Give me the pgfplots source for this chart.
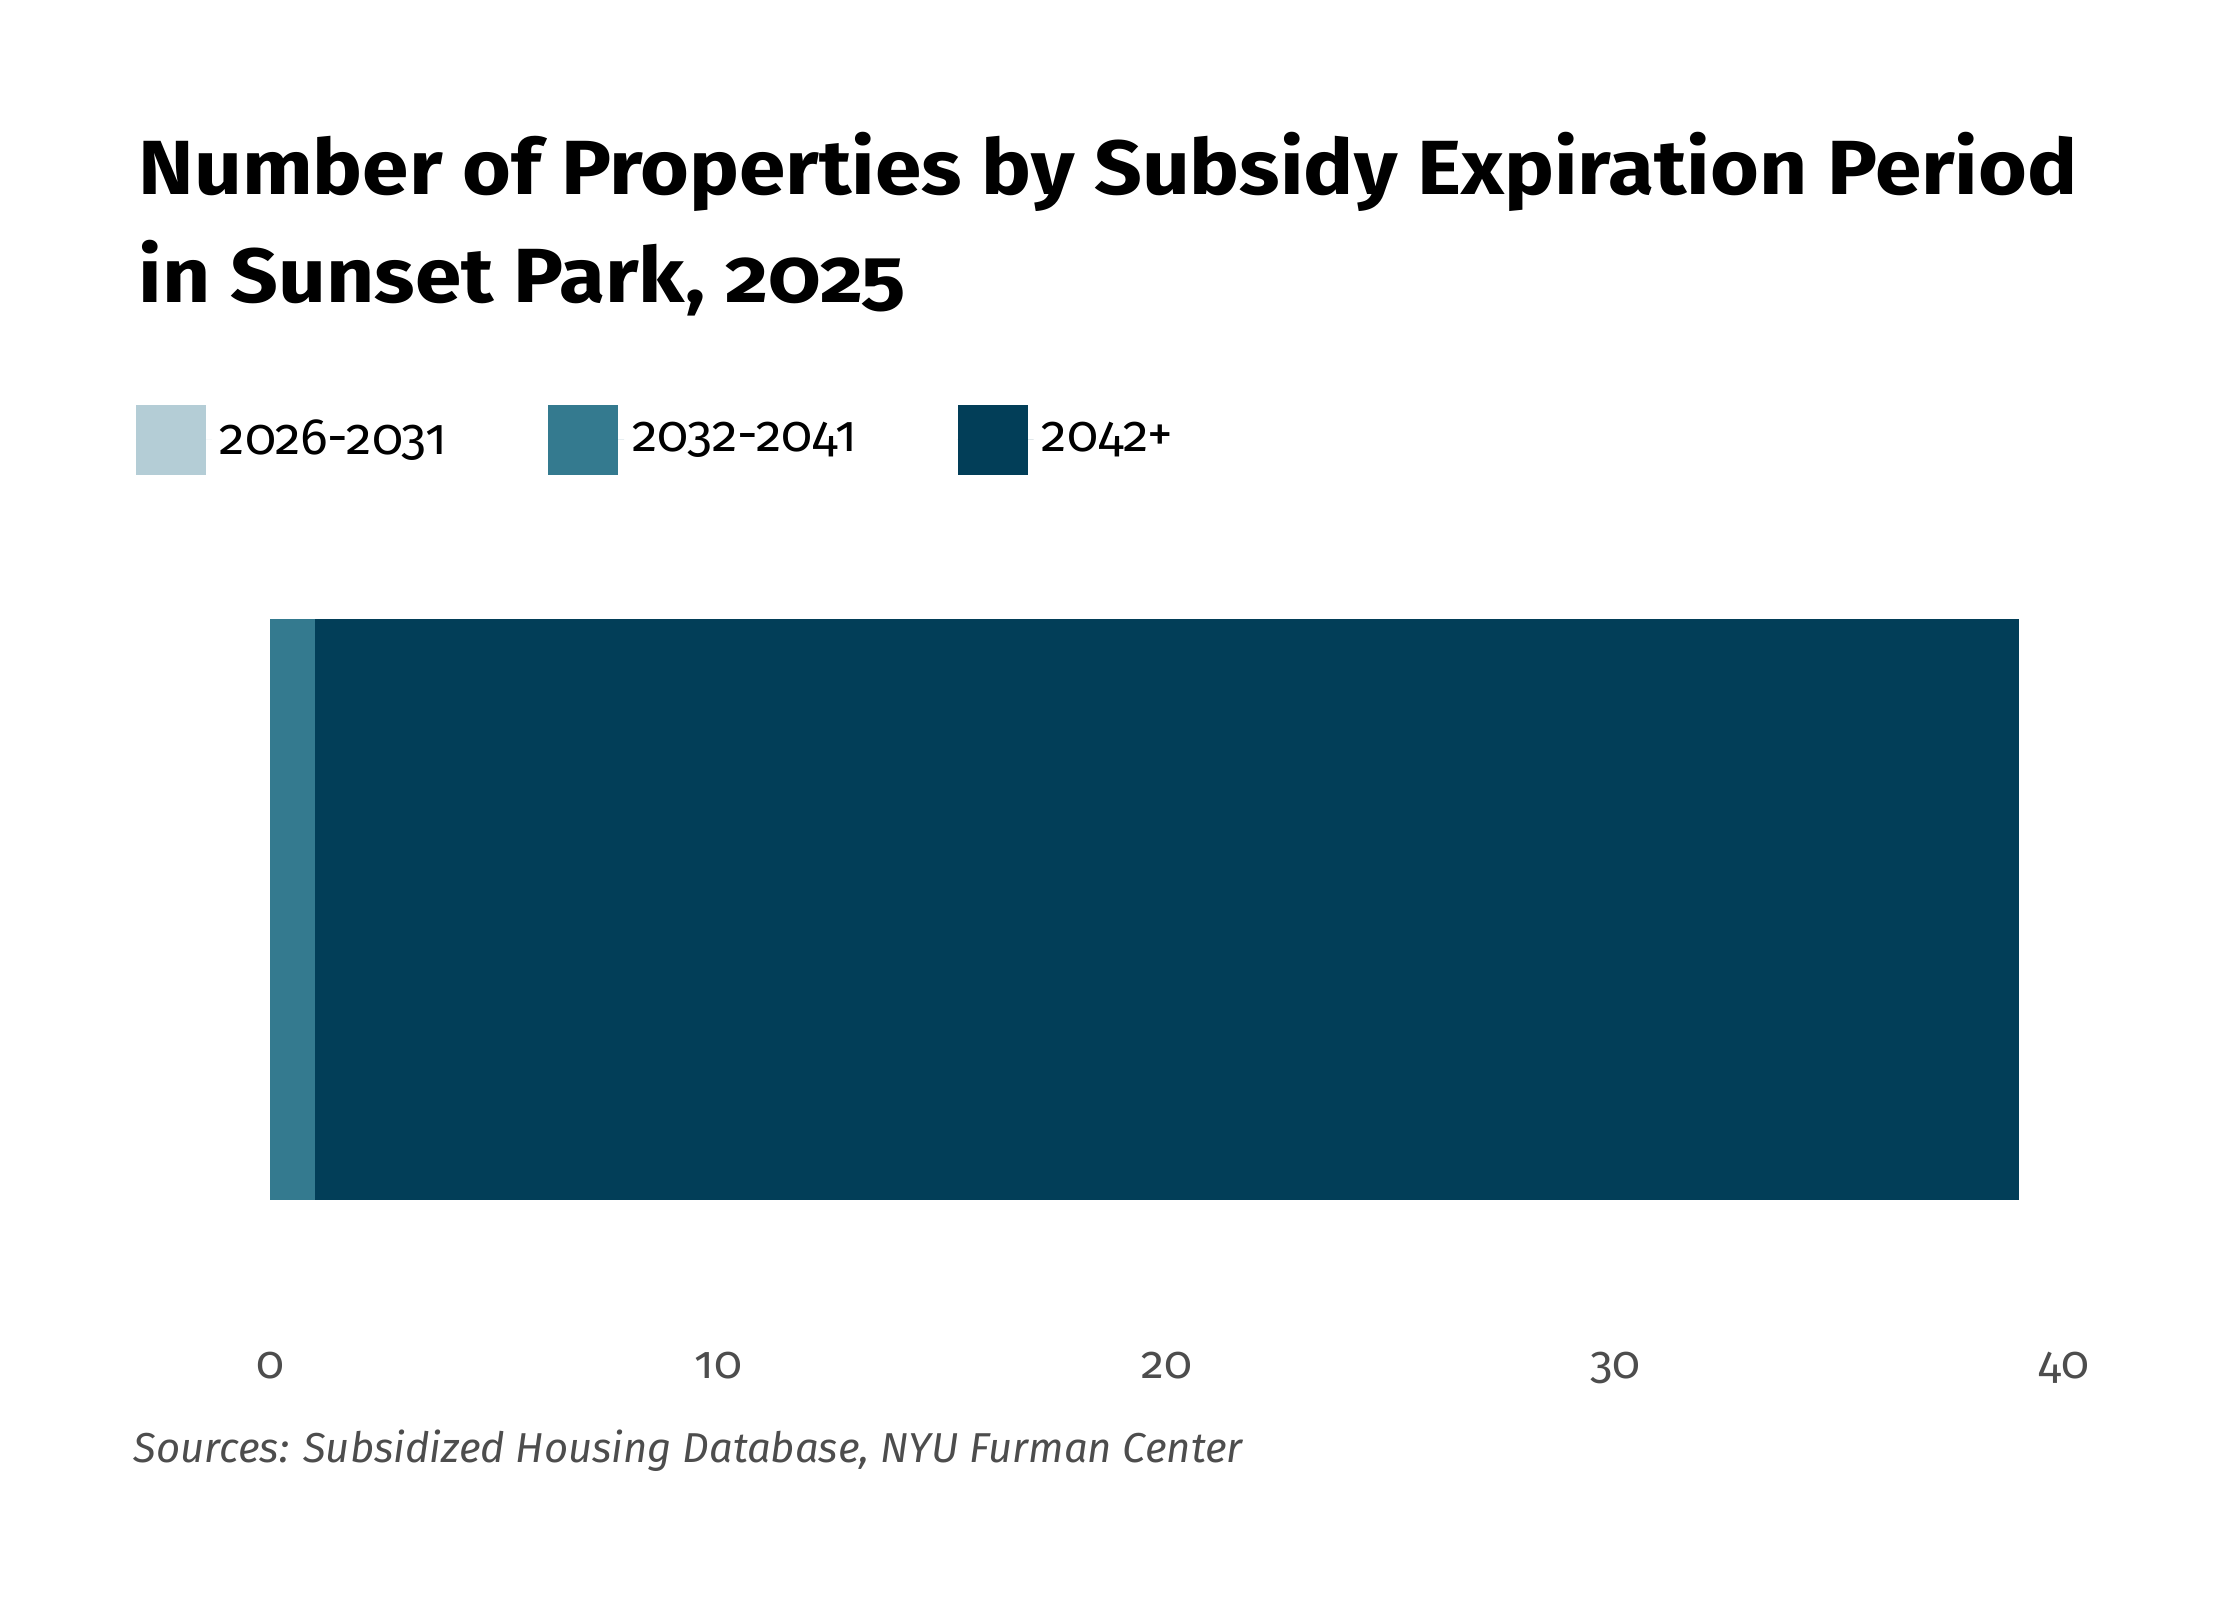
\documentclass[border=0pt]{standalone}
\usepackage{pgfplots}
\pgfplotsset{compat=1.18}
\usepackage{fontspec}
\setmainfont{Fira Sans}[Numbers=OldStyle]
\newfontfamily\titlefont{Fira Sans}[Numbers=OldStyle, FakeStretch=1.09]
\definecolor{cLight}{RGB}{180,205,214}
\definecolor{cMid}{RGB}{52,122,143}
\definecolor{cDark}{RGB}{2,62,88}
\definecolor{cGray}{RGB}{77,77,77}
\begin{document}
\begin{tikzpicture}
\path[use as bounding box] (0,0) rectangle (560pt,400pt);
\node[anchor=base west,inner sep=0,font=\titlefont\fontsize{19.2}{22}\selectfont\bfseries] at (34.5pt,351.25pt) {Number of Properties by Subsidy Expiration Period};
\node[anchor=base west,inner sep=0,font=\titlefont\fontsize{19.2}{22}\selectfont\bfseries] at (34.5pt,324.25pt) {in Sunset Park, 2025};
\node[anchor=base west,inner sep=0,font=\fontsize{10.45}{12}\selectfont\itshape,text=cGray] at (33.25pt,34.5pt) {Sources: Subsidized Housing Database, NYU Furman Center};
\begin{axis}[
  at={(67.5pt,100pt)}, anchor=south west,
  scale only axis, width=448.5pt, height=145.25pt,
  xbar stacked, bar width=145.25pt,
  xmin=0, xmax=40, ymin=0, ymax=1,
  xtick={0,10,20,30,40}, ytick=\empty,
  axis line style={draw=none}, major tick length=0pt,
  xticklabel style={anchor=base, yshift=-44.5pt, text=cGray, font=\fontsize{11.5}{13}\selectfont},
  /pgf/number format/assume math mode=true,
  legend columns=3,
  legend style={draw=none, fill=none, inner sep=0pt, at={(-0.0752,1.3081)}, anchor=west,
    font=\fontsize{12.8}{14}\selectfont,
    /tikz/every even column/.append style={column sep=23.25pt}},
  legend cell align=left,
  legend image code/.code={\fill[#1] (0pt,-8.75pt) rectangle (17.5pt,8.75pt); \path (0pt,0pt) -- (19pt,0pt);},
]
\addplot[fill=cLight, draw=none] coordinates {(0,0.5)};
\addplot[fill=cMid, draw=none] coordinates {(1,0.5)};
\addplot[fill=cDark, draw=none] coordinates {(38,0.5)};
\legend{2026-2031, 2032-2041, 2042+}
\end{axis}
\end{tikzpicture}
\end{document}
